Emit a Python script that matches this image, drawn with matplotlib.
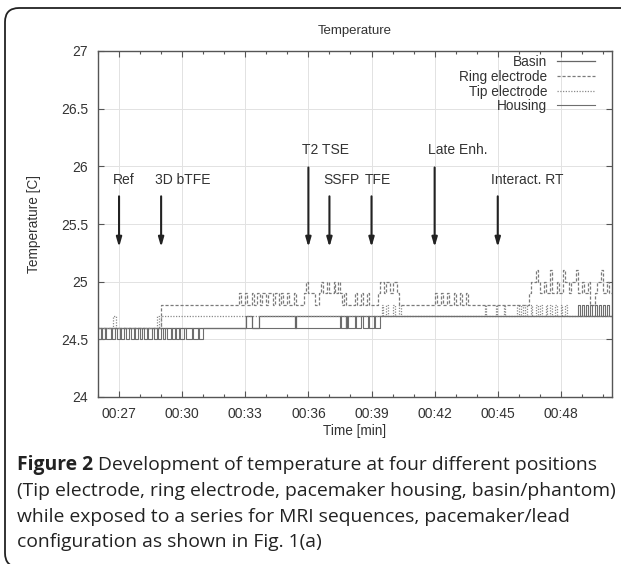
import matplotlib
matplotlib.use('Agg')
import matplotlib.pyplot as plt
from matplotlib.ticker import MultipleLocator, FuncFormatter
from matplotlib.patches import FancyBboxPatch
from matplotlib.transforms import IdentityTransform

# ---------------- data (time in minutes, temperature in C) ----------------
basin_t = [26.0, 33.05, 33.3, 33.65, 35.35, 35.4, 37.8, 37.85, 50.43]
basin_v = [24.6, 24.7, 24.6, 24.7, 24.6, 24.7, 24.6, 24.7, 24.7]

ring_t = [26.0, 29.0, 32.7, 32.8, 33.0, 33.1, 33.3, 33.4, 33.55, 33.7, 33.8, 34.0,
          34.1, 34.3, 34.4, 34.6, 34.7, 34.8, 35.0, 35.1, 35.3, 35.4, 35.8, 35.9,
          36.0, 36.3, 36.5, 36.6, 36.7, 36.9, 37.0, 37.2, 37.25, 37.4, 37.5, 37.6,
          37.7, 37.8, 38.2, 38.3, 38.5, 38.6, 38.8, 38.9, 39.3, 39.4, 39.6, 39.7,
          39.9, 40.0, 40.2, 40.3, 40.6, 42.0, 42.1, 42.3, 42.4, 42.6, 42.7, 42.9,
          43.0, 43.2, 43.3, 43.5, 43.6, 43.9, 46.5, 46.6, 46.8, 46.9, 47.0, 47.2,
          47.3, 47.5, 47.6, 47.8, 47.9, 48.1, 48.2, 48.4, 48.5, 48.7, 48.8, 49.0,
          49.1, 49.3, 49.4, 49.6, 49.7, 49.9, 50.0, 50.2, 50.3, 50.43]
ring_v = [24.6, 24.8, 24.9, 24.8, 24.9, 24.8, 24.9, 24.8, 24.9, 24.8, 24.9, 24.8,
          24.9, 24.8, 24.9, 24.8, 24.9, 24.8, 24.9, 24.8, 24.9, 24.8, 24.9, 25.0,
          24.9, 24.8, 24.9, 25.0, 24.9, 25.0, 24.9, 25.0, 24.9, 25.0, 24.9, 24.8,
          24.9, 24.8, 24.9, 24.8, 24.9, 24.8, 24.9, 24.8, 24.9, 25.0, 24.9, 25.0,
          24.9, 25.0, 24.9, 24.8, 24.8, 24.9, 24.8, 24.9, 24.8, 24.9, 24.8, 24.9,
          24.8, 24.9, 24.8, 24.9, 24.8, 24.8, 24.9, 25.0, 25.1, 25.0, 24.9, 25.0,
          24.9, 25.1, 24.9, 25.0, 24.9, 25.1, 25.0, 24.9, 25.0, 25.1, 24.9, 25.0,
          24.9, 25.0, 24.8, 24.9, 25.0, 25.1, 24.9, 25.0, 24.9, 24.9]

tip_t = [26.0, 26.7, 26.85, 28.8, 28.9, 29.0, 39.5, 39.55, 39.7, 39.8, 40.0, 40.1,
         40.3, 40.4, 44.4, 44.45, 44.9, 44.95, 45.3, 45.35, 45.9, 46.0, 46.1, 46.2,
         46.3, 46.4, 46.6, 46.65, 46.8, 46.9, 47.0, 47.1, 47.3, 47.35, 47.5, 47.6,
         47.7, 47.8, 48.0, 48.05, 48.2, 48.3, 50.43]
tip_v = [24.6, 24.7, 24.6, 24.7, 24.6, 24.7, 24.8, 24.7, 24.8, 24.7, 24.8, 24.7,
         24.8, 24.7, 24.8, 24.7, 24.8, 24.7, 24.8, 24.7, 24.8, 24.7, 24.8, 24.7,
         24.8, 24.7, 24.8, 24.7, 24.8, 24.7, 24.8, 24.7, 24.8, 24.7, 24.8, 24.7,
         24.8, 24.7, 24.8, 24.7, 24.8, 24.7, 24.7]

housing_t = [26.0, 26.15, 26.2, 26.35, 26.4, 26.6, 26.65, 26.8, 26.9, 27.05, 27.1,
             27.25, 27.35, 27.45, 27.55, 27.7, 27.75, 27.9, 28.0, 28.1, 28.2, 28.35,
             28.4, 28.55, 28.65, 28.8, 28.85, 29.0, 29.1, 29.2, 29.3, 29.45, 29.5,
             29.65, 29.7, 29.85, 29.9, 30.1, 30.2, 30.45, 30.5, 30.75, 30.8, 31.0,
             37.5, 37.55, 37.8, 37.9, 38.2, 38.25, 38.5, 38.6, 38.85, 38.9, 39.1,
             39.15, 39.4, 48.8, 48.9, 49.0, 49.1, 49.2, 49.3, 49.4, 49.5, 49.6,
             49.7, 49.8, 49.9, 50.0, 50.1, 50.2, 50.3, 50.43]
housing_v = [24.5, 24.6, 24.5, 24.6, 24.5, 24.6, 24.5, 24.6, 24.5, 24.6, 24.5,
             24.6, 24.5, 24.6, 24.5, 24.6, 24.5, 24.6, 24.5, 24.6, 24.5, 24.6,
             24.5, 24.6, 24.5, 24.6, 24.5, 24.6, 24.5, 24.6, 24.5, 24.6, 24.5,
             24.6, 24.5, 24.6, 24.5, 24.6, 24.5, 24.6, 24.5, 24.6, 24.5, 24.6,
             24.7, 24.6, 24.7, 24.6, 24.7, 24.6, 24.7, 24.6, 24.7, 24.6, 24.7,
             24.6, 24.7, 24.8, 24.7, 24.8, 24.7, 24.8, 24.7, 24.8, 24.7, 24.8,
             24.7, 24.8, 24.7, 24.8, 24.7, 24.8, 24.7, 24.7]

series_names = ["Basin", "Ring electrode", "Tip electrode", "Housing"]

event_labels = ["Ref", "3D bTFE", "T2 TSE", "SSFP", "TFE", "Late Enh.", "Interact. RT"]
event_times = [27.0, 29.0, 36.0, 37.0, 39.0, 42.0, 45.0]
event_tall = [False, False, True, False, False, True, False]

caption_bold = "Figure 2"
caption_lines = ["Development of temperature at four different positions",
                 "(Tip electrode, ring electrode, pacemaker housing, basin/phantom)",
                 "while exposed to a series for MRI sequences, pacemaker/lead",
                 "configuration as shown in Fig. 1(a)"]

# ---------------- figure ----------------
W, H = 621, 564
plt.rcParams['font.family'] = ['Liberation Sans', 'DejaVu Sans']
fig = plt.figure(figsize=(W / 100, H / 100), dpi=100)
ax = fig.add_axes([98 / W, 1 - 397 / H, (612 - 98) / W, (397 - 51) / H])

tc = '#333333'
ax.grid(True, which='major', color='#e2e2e2', lw=0.7)
ax.set_axisbelow(True)

ax.plot(basin_t, basin_v, drawstyle='steps-post', color='#666666', lw=0.9, label=series_names[0])
ax.plot(ring_t, ring_v, drawstyle='steps-post', color='#7a7a7a', lw=0.9,
        dashes=(2.5, 1.5), label=series_names[1])
ax.plot(tip_t, tip_v, drawstyle='steps-post', color='#8a8a8a', lw=0.9,
        dashes=(1, 1.2), label=series_names[2])
ax.plot(housing_t, housing_v, drawstyle='steps-post', color='#6e6e6e', lw=0.8, label=series_names[3])

ax.set_xlim(26.0, 50.43)
ax.set_ylim(24, 27)
ax.xaxis.set_major_locator(MultipleLocator(3))
ax.xaxis.set_minor_locator(MultipleLocator(1))
ax.yaxis.set_major_locator(MultipleLocator(0.5))
ax.xaxis.set_major_formatter(FuncFormatter(lambda v, p: "00:%02d" % int(round(v))))
ax.yaxis.set_major_formatter(FuncFormatter(lambda v, p: ("%g" % v)))
ax.tick_params(which='both', direction='in', top=True, right=True, colors='#555555',
               labelcolor=tc, labelsize=10)
ax.tick_params(which='major', length=4.5, width=0.8)
ax.tick_params(which='minor', length=2.5, width=0.8)
ax.tick_params(axis='x', pad=7)
ax.tick_params(axis='y', pad=7)
for s in ax.spines.values():
    s.set_color('#555555')
    s.set_linewidth(1.0)

# arrows
for lab, t, tall in zip(event_labels, event_times, event_tall):
    y0 = 25.99 if tall else 25.74
    ly = 26.14 if tall else 25.88
    ax.annotate('', xy=(t, 25.30), xytext=(t, y0),
                arrowprops=dict(arrowstyle='-|>,head_length=0.55,head_width=0.16',
                                lw=1.5, color='#222222', shrinkA=0, shrinkB=0))
    ax.text(t - 0.3, ly, lab, ha='left', va='center', fontsize=10, color=tc)

leg = ax.legend(loc='upper right', bbox_to_anchor=(0.967, 0.988), markerfirst=False,
                frameon=False, fontsize=9.8, handlelength=2.8, handletextpad=0.7,
                labelspacing=0.05, borderpad=0, borderaxespad=0)
for t in leg.get_texts():
    t.set_color(tc)

fig.text(355 / W, 1 - 31 / H, "Temperature", ha='center', va='center', fontsize=9.5, color=tc)
fig.text(34 / W, 1 - 224 / H, "Temperature [C]", rotation=90, ha='center', va='center',
         fontsize=9.8, color=tc)
fig.text(355 / W, 1 - 431 / H, "Time [min]", ha='center', va='center', fontsize=9.8, color=tc)

# caption
cap_font = ['Open Sans', 'DejaVu Sans']
fig.canvas.draw()
renderer = fig.canvas.get_renderer()
cs = 12.0
line_y = [465, 491, 516.5, 542]
b = fig.text(17 / W, 1 - line_y[0] / H, caption_bold, fontsize=cs, fontweight='bold',
             family=cap_font, ha='left', va='center', color='#222222')
texts = [fig.text(0, 1 - line_y[0] / H, " " + caption_lines[0], fontsize=cs, family=cap_font,
                  ha='left', va='center', color='#222222')]
for i, line in enumerate(caption_lines[1:]):
    texts.append(fig.text(17 / W, 1 - line_y[i + 1] / H, line, fontsize=cs, family=cap_font,
                          ha='left', va='center', color='#222222'))
w1 = b.get_window_extent(renderer).width + texts[0].get_window_extent(renderer).width
w2 = texts[1].get_window_extent(renderer).width
scale = 0.5 * ((608 - 17) / w1 + (597 - 17) / w2)
scale = min(scale, (612 - 17) / w2)
cs = cs * scale
b.set_fontsize(cs)
for t in texts:
    t.set_fontsize(cs)
bw = b.get_window_extent(renderer).width
texts[0].set_x((17 + bw) / W)

# frame
frame = FancyBboxPatch((5, -3), 700, H - 8 + 3, boxstyle="round,pad=0,rounding_size=14",
                       transform=IdentityTransform(), fill=False, lw=1.3, ec='#222222')
fig.patches.append(frame)

fig.savefig('out.png', dpi=100)
